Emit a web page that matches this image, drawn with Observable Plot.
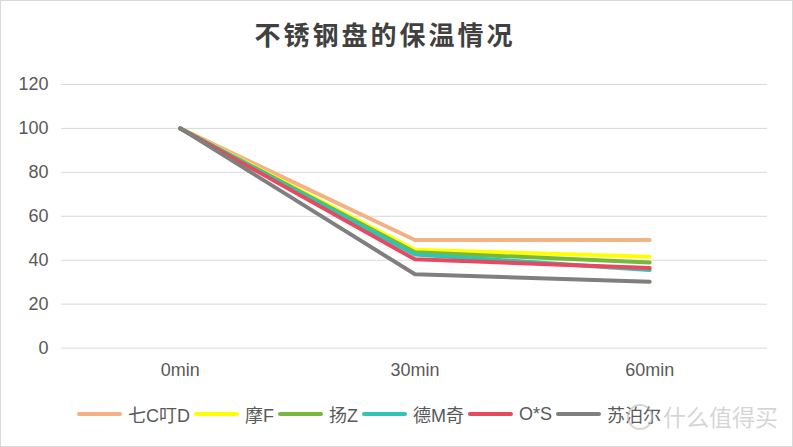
<!DOCTYPE html>
<html><head><meta charset="utf-8">
<script src="https://cdn.jsdelivr.net/npm/d3@7"></script>
<script src="https://cdn.jsdelivr.net/npm/@observablehq/plot@0.6"></script>
<style>
html,body{margin:0;padding:0;background:#fff;}
#wrap{position:relative;width:793px;height:447px;box-sizing:border-box;border:1px solid #d9d9d9;overflow:hidden;font-family:"Liberation Sans","Noto Sans CJK SC",sans-serif;}
#title{position:absolute;left:3px;top:0;width:762px;height:70px;text-align:center;font-family:"Noto Sans CJK SC",sans-serif;font-weight:bold;font-size:26px;line-height:66px;color:#404040;letter-spacing:3px;}
#chart{position:absolute;left:-1px;top:61px;}
#legend{position:absolute;left:76px;top:401px;height:24px;display:flex;align-items:center;font-family:"Liberation Sans","Noto Sans CJK SC",sans-serif;font-size:18px;color:#595959;white-space:nowrap;}
.it{display:flex;align-items:center;margin-right:4px;}
.sw{display:inline-block;width:45px;height:4px;border-radius:2px;margin-right:6px;}
#wm{position:absolute;left:662px;top:399px;height:32px;display:flex;align-items:center;font-family:"Noto Sans CJK SC",sans-serif;font-size:23px;color:rgba(185,185,185,0.6);white-space:nowrap;}
#logo{position:absolute;left:626px;top:403px;width:22px;height:22px;border:2px solid rgba(185,185,185,0.6);border-radius:50%;}
</style></head>
<body><div id="wrap">
<div id="title">不锈钢盘的保温情况</div>
<div id="chart"></div>
<div id="legend"></div>
<div id="logo"></div>
<div id="wm">什么值得买</div>
</div>
<script>
const times = ["0min","30min","60min"];
const seriesNames = ["七C叮D","摩F","扬Z","德M奇","O*S","苏泊尔"];
const seriesColors = ["#F4B183","#FFFF00","#76B83E","#2EC4B6","#E8495E","#7F7F7F"];
const v_qicdingd = [100, 49.2, 49.2];
const v_mof      = [100, 44.8, 41.6];
const v_yangz    = [100, 43.6, 39.0];
const v_demqi    = [100, 42.6, 35.6];
const v_os       = [100, 40.4, 36.5];
const v_subo     = [100, 33.6, 30.2];
const allValues = [v_qicdingd, v_mof, v_yangz, v_demqi, v_os, v_subo];
const yTicks = [0,20,40,60,80,100,120];

const data = [];
seriesNames.forEach((s,i)=>times.forEach((t,j)=>data.push({series:s,time:t,value:allValues[i][j]})));

const chart = Plot.plot({
  width: 793, height: 326,
  marginLeft: 61, marginRight: 25, marginTop: 22, marginBottom: 40,
  style: {fontFamily: "Liberation Sans, sans-serif", fontSize: "18px", color: "#595959", background: "transparent"},
  x: {type: "point", domain: times, padding: 0.5, label: null},
  y: {domain: [0,120], ticks: yTicks, label: null},
  color: {domain: seriesNames, range: seriesColors},
  marks: [
    Plot.gridY(yTicks, {stroke: "#d9d9d9", strokeOpacity: 1, strokeWidth: 1}),
    Plot.axisY(yTicks, {tickSize: 0, tickPadding: 13, label: null, fontSize: 18}),
    Plot.axisX({tickSize: 0, tickPadding: 15, label: null, fontSize: 18}),
    Plot.line(data, {x: "time", y: "value", z: "series", stroke: "series", strokeWidth: 4, strokeLinejoin: "round", strokeLinecap: "round"})
  ]
});
document.getElementById("chart").appendChild(chart);

const leg = document.getElementById("legend");
seriesNames.forEach((s,i)=>{
  const d = document.createElement("div"); d.className="it";
  const sw = document.createElement("span"); sw.className="sw"; sw.style.background=seriesColors[i];
  const t = document.createElement("span"); t.textContent=s;
  d.appendChild(sw); d.appendChild(t); leg.appendChild(d);
});
</script>
</body></html>
